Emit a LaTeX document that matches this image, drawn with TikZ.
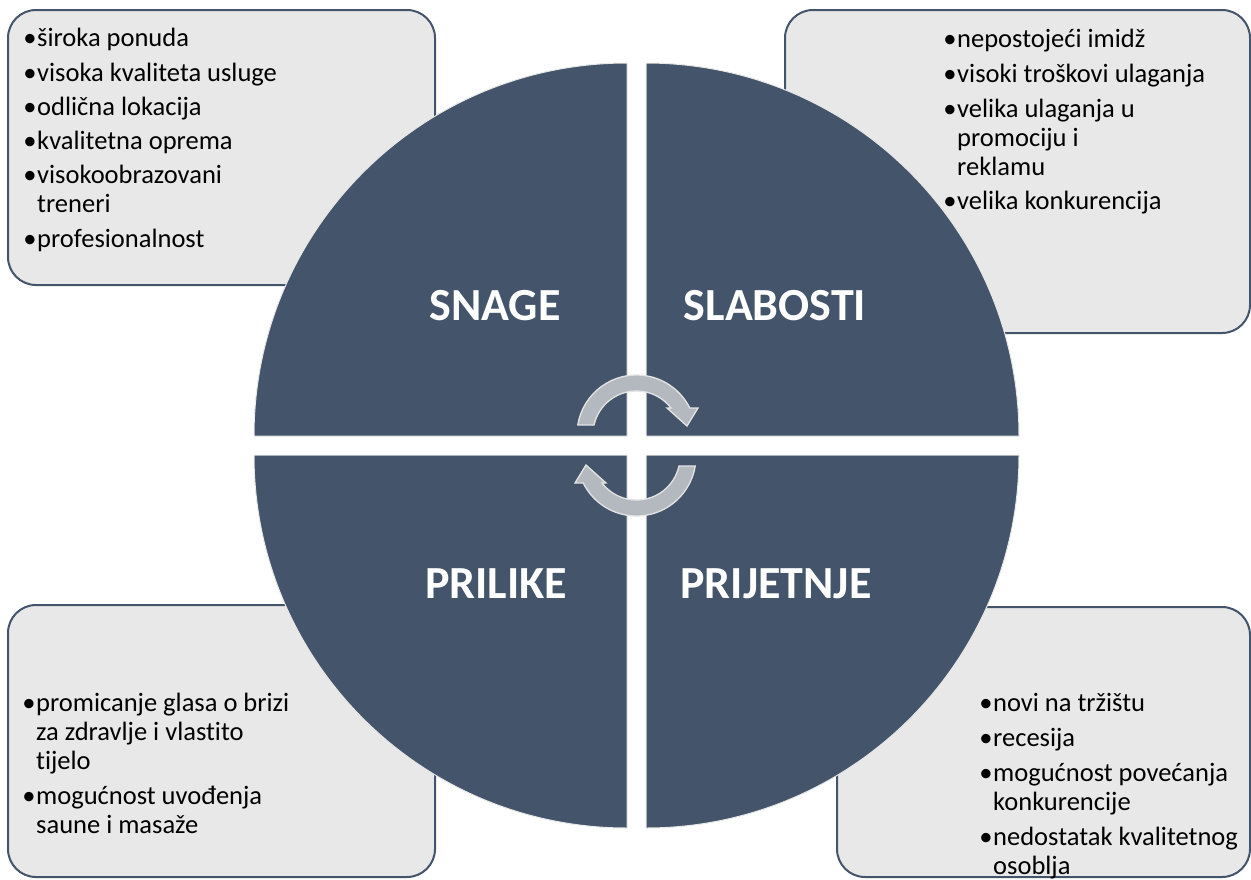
\documentclass[tikz,border=0pt]{standalone}
\usepackage{fontspec}
\setmainfont{Carlito}[Ligatures={NoCommon,NoRare}]
\definecolor{quadc}{HTML}{44546A}
\definecolor{boxfill}{HTML}{E8E8E8}
\definecolor{boxline}{HTML}{44546A}
\definecolor{arrfill}{HTML}{B4B8BF}
\definecolor{arredge}{HTML}{E4E4E4}
\tikzset{
  infobox/.style={draw=boxline, fill=boxfill, line width=2pt, rounded corners=28pt},
  quadrant/.style={fill=quadc, draw=gray!18, line width=1pt},
  cycarrow/.style={fill=arrfill, draw=arredge, line width=1.3pt, line join=miter},
  txt/.style={anchor=base west, inner sep=0pt, font=\fontsize{26.5}{32}\selectfont, text=black},
  bul/.style={anchor=base, inner sep=0pt, font=\fontsize{26.5}{32}\selectfont, text=black},
  qlabel/.style={anchor=base, inner sep=0pt, font=\fontsize{46}{50}\selectfont\bfseries, text=white}
}
\begin{document}
\begin{tikzpicture}[x=1pt,y=-1pt]
\useasboundingbox (0,0) rectangle (1251,879);
% boxes
\draw[infobox] (8,10) rectangle (435,285);
\draw[infobox] (785,10) rectangle (1250,333);
\draw[infobox] (8,605) rectangle (435,877);
\draw[infobox] (837,607) rectangle (1250,877);
% quadrants
\draw[quadrant] (627,436) -- (254,436) arc[start angle=180, end angle=270, radius=373] -- cycle;
\draw[quadrant] (646,436) -- (646,63) arc[start angle=270, end angle=360, radius=373] -- cycle;
\draw[quadrant] (646,455) -- (1019,455) arc[start angle=0, end angle=90, radius=373] -- cycle;
\draw[quadrant] (627,455) -- (627,828) arc[start angle=90, end angle=180, radius=373] -- cycle;
% circular arrows
\draw[cycarrow] (577.8,425) arc[start angle=-170.8, end angle=-26.4, radius=59.5]
  -- (698,408) -- (687,426) -- (667,408) -- (671,408)
  arc[start angle=-37.5, end angle=-167.4, radius=43.5] -- cycle;
\draw[cycarrow] (695.2,466) arc[start angle=9.2, end angle=153.6, radius=59.5]
  -- (575,483) -- (586,465) -- (606,483) -- (602,483)
  arc[start angle=142.5, end angle=12.6, radius=43.5] -- cycle;
% quadrant labels
\node[qlabel] (snage) at (495,320) {SNAGE};
\node[qlabel] (slabosti) at (775,320) {SLABOSTI};
\node[qlabel] (prilike) at (496,598) {PRILIKE};
\node[qlabel] (prijetnje) at (776,598) {PRIJETNJE};
% top-left box text
\node[bul] (tlb1) at (30,46) {•};
\node[txt] (tl1) at (37,46) {široka ponuda};
\node[bul] (tlb2) at (30,81) {•};
\node[txt] (tl2) at (37,81) {visoka kvaliteta usluge};
\node[bul] (tlb3) at (30,115) {•};
\node[txt] (tl3) at (37,115) {odlična lokacija};
\node[bul] (tlb4) at (30,149) {•};
\node[txt] (tl4) at (37,149) {kvalitetna oprema};
\node[bul] (tlb5) at (30,183) {•};
\node[txt] (tl5) at (37,183) {visokoobrazovani};
\node[txt] (tl5b) at (37,212) {treneri};
\node[bul] (tlb6) at (30,247) {•};
\node[txt] (tl6) at (37,247) {profesionalnost};
% top-right box text
\node[bul] (trb1) at (950,47) {•};
\node[txt] (tr1) at (957,47) {nepostojeći imidž};
\node[bul] (trb2) at (950,82) {•};
\node[txt] (tr2) at (957,82) {visoki troškovi ulaganja};
\node[bul] (trb3) at (950,117) {•};
\node[txt] (tr3) at (957,117) {velika ulaganja u};
\node[txt] (tr3b) at (957,146) {promociju i};
\node[txt] (tr3c) at (957,175) {reklamu};
\node[bul] (trb4) at (950,209) {•};
\node[txt] (tr4) at (957,209) {velika konkurencija};
% bottom-left box text
\node[bul] (blb1) at (29,711) {•};
\node[txt] (bl1) at (36,711) {promicanje glasa o brizi};
\node[txt] (bl1b) at (36,740) {za zdravlje i vlastito};
\node[txt] (bl1c) at (36,769) {tijelo};
\node[bul] (blb2) at (29,804) {•};
\node[txt] (bl2) at (36,804) {mogućnost uvođenja};
\node[txt] (bl2b) at (36,833) {saune i masaže};
% bottom-right box text
\node[bul] (brb1) at (986,711.5) {•};
\node[txt] (br1) at (993,711.5) {novi na tržištu};
\node[bul] (brb2) at (986,746.5) {•};
\node[txt] (br2) at (993,746.5) {recesija};
\node[bul] (brb3) at (986,781.5) {•};
\node[txt] (br3) at (993,781.5) {mogućnost povećanja};
\node[txt] (br3b) at (993,810.5) {konkurencije};
\node[bul] (brb4) at (986,845.5) {•};
\node[txt] (br4) at (993,845.5) {nedostatak kvalitetnog};
\node[txt] (br4b) at (993,874.5) {osoblja};
\end{tikzpicture}
\end{document}
